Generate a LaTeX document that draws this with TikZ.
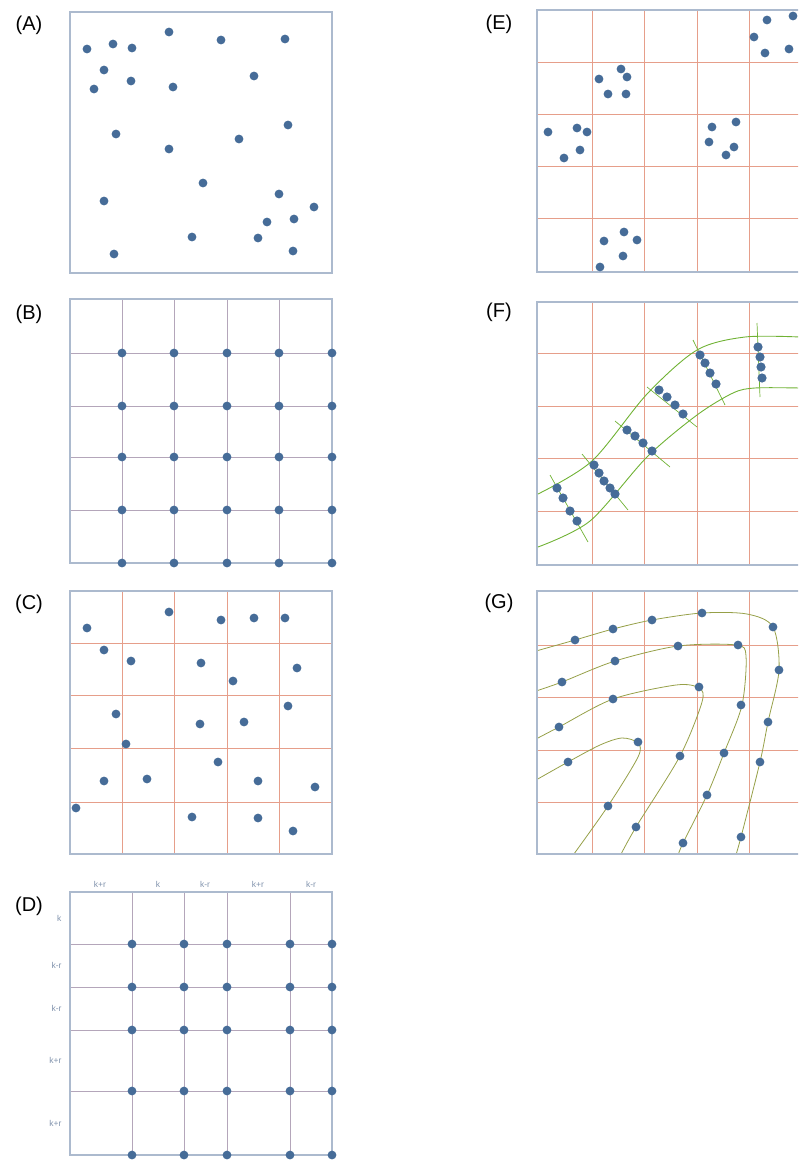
\documentclass[tikz,border=0pt]{standalone}
\usepackage{fontspec}
\setmainfont{Liberation Sans}
\usepackage{xcolor}
\usetikzlibrary{calc}

\definecolor{dotblue}{RGB}{70,108,152}
\definecolor{framegray}{RGB}{172,186,206}
\definecolor{gridred}{RGB}{230,158,138}
\definecolor{gridmauve}{RGB}{180,166,186}
\definecolor{flowgreen}{RGB}{112,178,52}
\definecolor{flowolive}{RGB}{150,160,72}
\definecolor{labelgray}{RGB}{128,146,172}

\begin{document}
\begin{tikzpicture}[x=1pt, y=-1pt,
  frame/.style={draw=framegray, line width=1.4pt},
  redgrid/.style={draw=gridred, line width=0.8pt},
  graygrid/.style={draw=gridmauve, line width=0.9pt},
  flow/.style={draw=flowgreen, line width=0.9pt},
  field/.style={draw=flowolive, line width=0.8pt},
  panel/.style={font=\fontsize{20}{22}\selectfont},
  rowlabel/.style={font=\fontsize{8.5}{9}\selectfont, text=labelgray},
  sample/.style={fill=dotblue}]
  \useasboundingbox (0,0) rectangle (798,1162);
  \clip (0,0) rectangle (798,1162);

  % (A) scattered samples
  \node[panel] (labA) at (29,25) {(A)};
  \draw[frame] (70,12) rectangle (332,273);
  \foreach \px/\py in {87/49, 113/44, 132/48, 169/32, 221/40, 285/39, 104/70,
      131/81, 94/89, 173/87, 254/76, 288/125, 116/134, 239/139, 169/149,
      203/183, 279/194, 104/201, 314/207, 267/222, 294/219, 192/237,
      258/238, 293/251, 114/254}
    \fill[sample] (\px,\py) circle (4.4pt);

  % (B) samples on the grid nodes
  \node[panel] (labB) at (29,314) {(B)};
  \foreach \gx in {122,174,227,279} \draw[graygrid] (\gx,299) -- (\gx,563);
  \foreach \gy in {353,406,457,510} \draw[graygrid] (70,\gy) -- (332,\gy);
  \draw[frame] (70,299) rectangle (332,563);
  \foreach \gx in {122,174,227,279,332}
    \foreach \gy in {353,406,457,510,563}
      \fill[sample] (\gx,\gy) circle (4.4pt);

  % (C) scattered samples on a grid
  \node[panel] (labC) at (29,604) {(C)};
  \foreach \gx in {122,174,227,279} \draw[redgrid] (\gx,591) -- (\gx,854);
  \foreach \gy in {643,695,748,802} \draw[redgrid] (70,\gy) -- (332,\gy);
  \draw[frame] (70,591) rectangle (332,854);
  \foreach \px/\py in {87/628, 169/612, 221/620, 254/618, 285/618, 104/650,
      131/661, 201/663, 297/668, 233/681, 288/706, 116/714, 200/724,
      244/722, 126/744, 218/762, 104/781, 147/779, 258/781, 315/787,
      76/808, 192/817, 258/818, 293/831}
    \fill[sample] (\px,\py) circle (4.4pt);

  % (D) uneven spacing
  \node[panel] (labD) at (29,906) {(D)};
  \foreach \gx in {132,184,227,290} \draw[graygrid] (\gx,892) -- (\gx,1155);
  \foreach \gy in {944,987,1030,1091} \draw[graygrid] (70,\gy) -- (332,\gy);
  \draw[frame] (70,892) rectangle (332,1155);
  \foreach \gx in {132,184,227,290,332}
    \foreach \gy in {944,987,1030,1091,1155}
      \fill[sample] (\gx,\gy) circle (4.4pt);
  \foreach \lx/\txt [count=\n] in {100/k+r, 158/k, 205/k-r, 258/k+r, 311/k-r}
    \node[rowlabel] (top\n) at (\lx,884) {\txt};
  \foreach \ly/\txt [count=\n] in {918/k, 965/k-r, 1008/k-r, 1060/k+r, 1123/k+r}
    \node[rowlabel, anchor=east] (side\n) at (65,\ly) {\txt};

  % (E) clustered samples
  \node[panel] (labE) at (499,24) {(E)};
  \foreach \gx in {592,644,697,749} \draw[redgrid] (\gx,10) -- (\gx,272);
  \foreach \gy in {62,114,166,218} \draw[redgrid] (537,\gy) -- (800,\gy);
  \draw[frame] (537,10) rectangle (801,272);
  \foreach \px/\py in {767/20, 793/16, 754/37, 765/53, 789/49,
      621/69, 627/77, 599/79, 608/94, 626/94,
      548/132, 577/128, 587/132, 580/150, 564/158,
      712/127, 736/122, 709/142, 734/147, 726/155,
      624/232, 604/241, 637/240, 623/256, 600/267}
    \fill[sample] (\px,\py) circle (4.4pt);

  % (F) samples across a band
  \node[panel] (labF) at (499,312) {(F)};
  \foreach \gx in {592,644,697,749} \draw[redgrid] (\gx,302) -- (\gx,565);
  \foreach \gy in {353,406,458,511} \draw[redgrid] (537,\gy) -- (800,\gy);
  \draw[frame] (537,302) rectangle (801,565);
  \draw[flow] plot[smooth] coordinates {(538,494) (592,461) (647,394) (697,350) (745,337) (800,337)};
  \draw[flow] plot[smooth] coordinates {(538,547) (590,521) (647,457) (697,415) (733,393) (755,388) (800,388)};
  \foreach \ax/\ay/\bx/\by in {550/475/588/542, 582/454/628/510, 615/421/670/467,
      647/387/697/427, 693/340/725/405, 757/323/760/397}
    \draw[flow, line width=0.7pt] (\ax,\ay) -- (\bx,\by);
  \foreach \px/\py in {557/488, 563/498, 570/511, 577/521,
      594/465, 599/473, 604/481, 610/488, 615/494,
      627/430, 635/436, 643/443, 652/451,
      659/390, 667/397, 675/405, 683/414,
      700/355, 705/363, 710/373, 716/384,
      758/347, 760/357, 761/367, 762/378}
    \fill[sample] (\px,\py) circle (4.6pt);

  % (G) samples along curved lines
  \node[panel] (labG) at (499,603) {(G)};
  \foreach \gx in {592,644,697,749} \draw[redgrid] (\gx,591) -- (\gx,854);
  \foreach \gy in {645,697,750,802} \draw[redgrid] (537,\gy) -- (800,\gy);
  \begin{scope}
    \clip (537,591) rectangle (801,854);
    \draw[field] plot[smooth] coordinates {(536,651) (575,640) (613,629) (652,620) (702,613)
      (747,614) (773,627) (779,670) (768,722) (760,762) (741,837) (735,858)};
    \draw[field] plot[smooth] coordinates {(536,691) (562,682) (615,661) (678,646) (736,645)
      (746,656) (742,705) (724,753) (707,795) (683,843) (677,858)};
    \draw[field] plot[smooth] coordinates {(536,739) (559,727) (613,699) (676,685) (699,688)
      (702,702) (680,756) (636,827) (619,858)};
    \draw[field] plot[smooth] coordinates {(536,780) (568,762) (600,745) (622,738) (638,743)
      (638,757) (608,806) (571,858)};
  \end{scope}
  \draw[frame] (537,591) rectangle (801,854);
  \foreach \px/\py in {575/640, 613/629, 652/620, 702/613, 773/627, 779/670,
      768/722, 760/762, 741/837,
      562/682, 615/661, 678/646, 738/645, 741/705, 724/753, 707/795, 683/843,
      559/727, 613/699, 699/687, 680/756, 636/827,
      568/762, 638/742, 608/806}
    \fill[sample] (\px,\py) circle (4.4pt);
\end{tikzpicture}
\end{document}
